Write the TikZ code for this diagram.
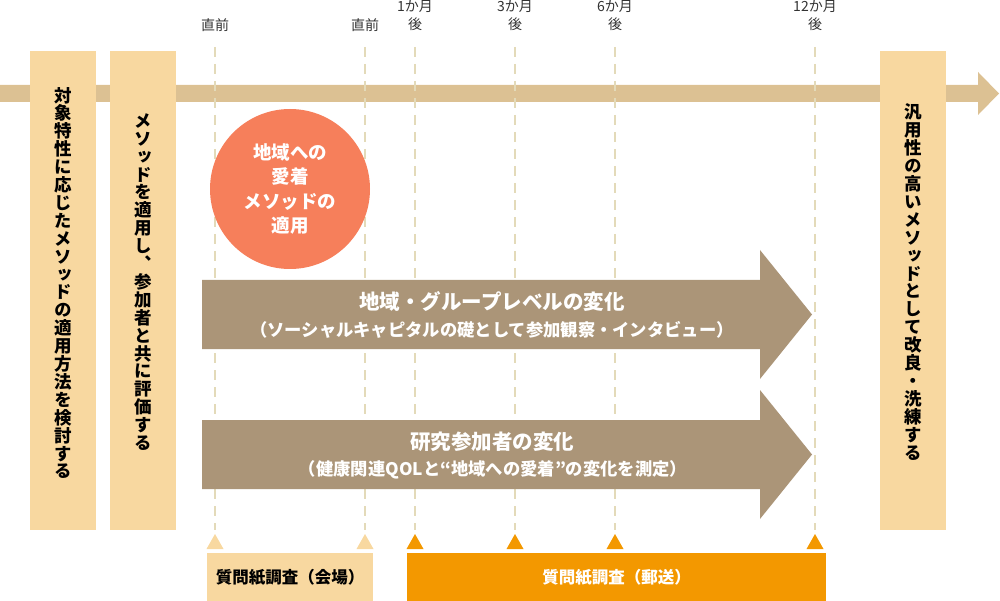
\documentclass[tikz,border=0pt]{standalone}
\usepackage{fontspec}
\setmainfont{Noto Sans CJK JP}
\newfontfamily\vjp{Noto Sans CJK JP}[RawFeature=+vert]
\definecolor{barc}{HTML}{DCC193}
\definecolor{boxc}{HTML}{F8D8A0}
\definecolor{circc}{HTML}{F67F5B}
\definecolor{arrc}{HTML}{AB9578}
\definecolor{orc}{HTML}{F39800}
\definecolor{dashc}{HTML}{E3DAB9}
\definecolor{txtc}{HTML}{333333}
\tikzset{
  dashline/.style={draw=dashc, line width=2pt, dash pattern=on 10pt off 7pt},
  vtext/.style={inner sep=0pt, align=center, text=black, font=\vjp\bfseries\fontsize{17.5}{17.9}\selectfont},
  timelbl/.style={inner sep=0pt, align=center, text=txtc, font=\fontsize{14}{18}\selectfont},
  arrtitle/.style={inner sep=0pt, text=white, font=\bfseries\fontsize{20.5}{24}\selectfont},
  arrsub/.style={inner sep=0pt, text=white, font=\bfseries\fontsize{17.3}{20}\selectfont},
  survey/.style={inner sep=0pt, font=\bfseries\fontsize{16.5}{20}\selectfont},
}
\begin{document}
\begin{tikzpicture}[x=1pt,y=-1pt]
\useasboundingbox (0,0) rectangle (1000,601);
% timeline
\fill[barc] (0,85) -- (978,85) -- (978,72) -- (999,93.5) -- (978,115) -- (978,102) -- (0,102) -- cycle;
% dashed time lines
\foreach \x in {215,365,415,515,615,815} \draw[dashline] (\x,47) -- (\x,530);
% time labels
\node[timelbl] (t1) at (215,25) {直前};
\node[timelbl] (t2) at (365,25) {直前};
\node[timelbl] (t3) at (415,16) {1か月\\後};
\node[timelbl] (t4) at (515,16) {3か月\\後};
\node[timelbl] (t5) at (615,16) {6か月\\後};
\node[timelbl] (t6) at (815,16) {12か月\\後};
% side boxes
\fill[boxc] (30,51) rectangle (96,530);
\fill[boxc] (110,51) rectangle (176,530);
\fill[boxc] (880,51) rectangle (946,530);
\node[vtext] (v1) at (63,283) {対\\象\\特\\性\\に\\応\\じ\\た\\メ\\ソ\\ッ\\ド\\の\\適\\用\\方\\法\\を\\検\\討\\す\\る};
\node[vtext] (v2) at (143,282) {メ\\ソ\\ッ\\ド\\を\\適\\用\\し\\、\\参\\加\\者\\と\\共\\に\\評\\価\\す\\る};
\node[vtext] (v3) at (913,282) {汎\\用\\性\\の\\高\\い\\メ\\ソ\\ッ\\ド\\と\\し\\て\\改\\良\\・\\洗\\練\\す\\る};
% circle
\node[circle, fill=circc, minimum size=160pt, inner sep=0pt] (circ) at (290,189) {};
\node[inner sep=0pt, align=center, text=white, font=\bfseries\fontsize{18.5}{24.3}\selectfont] (ctext) at (circ.center) {地域への\\愛着\\メソッドの\\適用};
% big arrows
\fill[arrc] (202,280) -- (760,280) -- (760,250) -- (812,314.5) -- (760,379) -- (760,349) -- (202,349) -- cycle;
\node[arrtitle] (a1t) at (492,302) {地域・グループレベルの変化};
\node[arrsub] (a1s) at (492,330) {（ソーシャルキャピタルの礎として参加観察・インタビュー）};
\fill[arrc] (202,420) -- (760,420) -- (760,390) -- (812,454.5) -- (760,519) -- (760,489) -- (202,489) -- cycle;
\node[arrtitle] (a2t) at (492,442) {研究参加者の変化};
\node[arrsub] (a2s) at (493,470) {（健康関連QOLと“地域への愛着”の変化を測定）};
% triangles
\foreach \x in {215,365} \fill[boxc] (\x,534) -- (\x+8.5,549) -- (\x-8.5,549) -- cycle;
\foreach \x in {415,515,615,815} \fill[orc] (\x,534) -- (\x+8.5,549) -- (\x-8.5,549) -- cycle;
% survey boxes
\node[survey, fill=boxc, text=black, minimum width=166pt, minimum height=48pt, anchor=north west] (s1) at (207,553) {質問紙調査（会場）};
\node[survey, fill=orc, text=white, minimum width=419pt, minimum height=48pt, anchor=north west] (s2) at (407,553) {質問紙調査（郵送）};
\end{tikzpicture}
\end{document}
